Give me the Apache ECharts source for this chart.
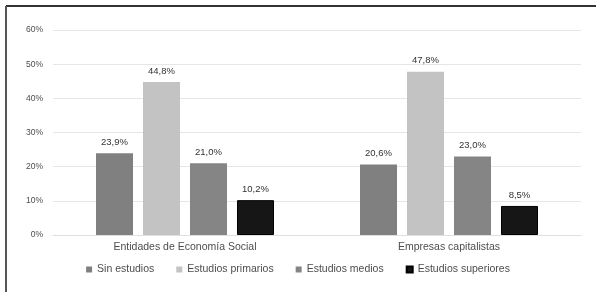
<!DOCTYPE html>
<html>
<head>
<meta charset="utf-8">
<script src="https://cdn.jsdelivr.net/npm/echarts@6/dist/echarts.min.js"></script>
<style>
	html, body { margin: 0; padding: 0; background: #fff; }
	#main { width: 596px; height: 292px; }
</style>
</head>
<body>
<div id="main"></div>
<script>
var categories = ['Entidades de Economía Social', 'Empresas capitalistas'];
var sinEstudios = [23.9, 20.6];
var primarios = [44.8, 47.8];
var medios = [21.0, 23.0];
var superiores = [10.2, 8.5];
var seriesNames = ['Sin estudios', 'Estudios primarios', 'Estudios medios', 'Estudios superiores'];
var colors = ['#808080', '#c3c3c3', '#858585', '#161616'];

var chart = echarts.init(document.getElementById('main'));

var font = '"Liberation Sans", Arial, sans-serif';
var allData = [sinEstudios, primarios, medios, superiores];
var series = [];
for (var i = 0; i < allData.length; i++) {
	series.push({
		name: seriesNames[i],
		type: 'bar',
		barWidth: 37,
		barGap: '27%',
		data: allData[i],
		itemStyle: {
			color: colors[i],
			borderColor: i == 3 ? '#000' : colors[i],
			borderWidth: i == 3 ? 1 : 0
		},
		label: {
			show: true,
			position: 'top',
			distance: 6,
			color: '#333',
			fontFamily: font,
			fontSize: 9.5,
			formatter: function(p) {
				return p.value.toFixed(1).replace('.', ',') + '%';
			}
		}
	});
}

var option = {
	animation: false,
	backgroundColor: '#fff',
	color: colors,
	grid: {
		left: 53,
		right: 15,
		top: 30,
		bottom: 57
	},
	legend: {
		data: seriesNames,
		bottom: 12,
		left: 'center',
		icon: 'rect',
		itemWidth: 6,
		itemHeight: 6,
		itemGap: 22,
		textStyle: {
			color: '#4d4d4d',
			fontFamily: font,
			fontSize: 10.5
		}
	},
	xAxis: {
		type: 'category',
		data: categories,
		axisTick: { show: false },
		axisLine: { show: true, lineStyle: { color: '#e0e0e0' } },
		axisLabel: {
			color: '#4d4d4d',
			fontFamily: font,
			fontSize: 10.5,
			margin: 7
		}
	},
	yAxis: {
		type: 'value',
		min: 0,
		max: 60,
		interval: 10,
		axisLine: { show: false },
		axisTick: { show: false },
		axisLabel: {
			color: '#4d4d4d',
			fontFamily: font,
			fontSize: 8.5,
			margin: 10,
			formatter: '{value}%'
		},
		splitLine: { lineStyle: { color: '#e6e6e6' } }
	},
	graphic: [
		{ type: 'line', shape: { x1: 6, y1: 6, x2: 596, y2: 6 }, style: { stroke: '#333', lineWidth: 2 } },
		{ type: 'line', shape: { x1: 6, y1: 6, x2: 6, y2: 292 }, style: { stroke: '#555', lineWidth: 2 } }
	],
	series: series
};
chart.setOption(option);
</script>
</body>
</html>
